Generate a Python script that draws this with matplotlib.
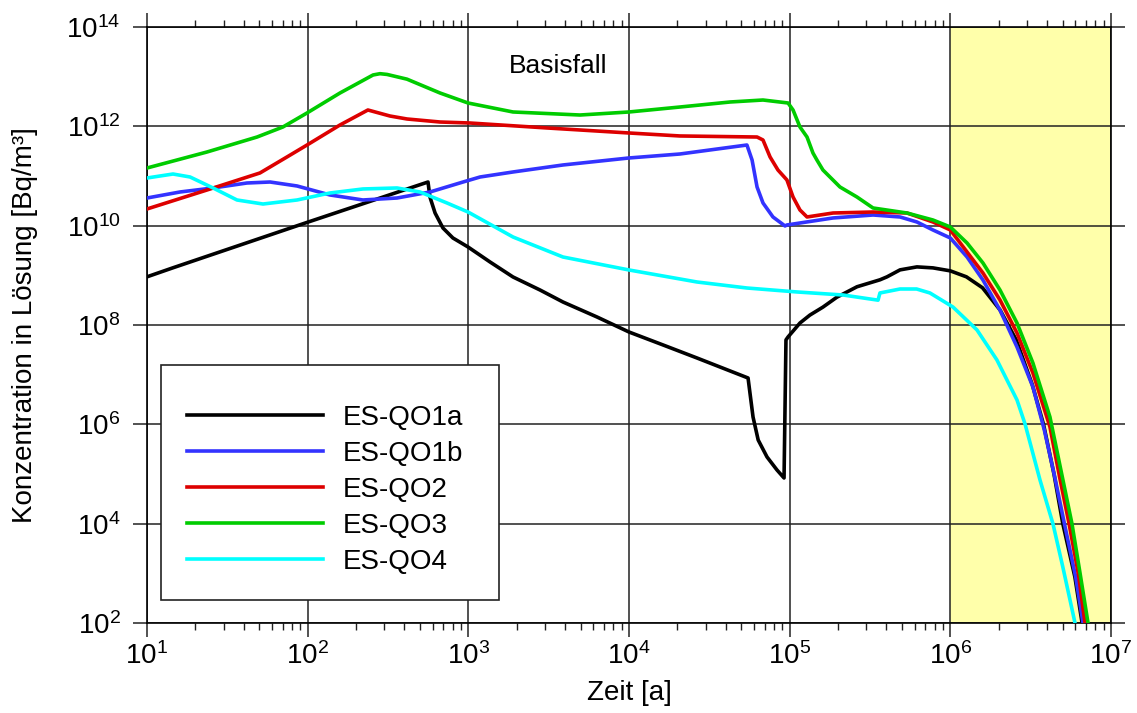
import numpy as np
import matplotlib
matplotlib.use("Agg")
import matplotlib.pyplot as plt
from matplotlib.ticker import FixedLocator, LogFormatterSciNotation, NullLocator, NullFormatter
from matplotlib.patches import Rectangle

plt.rcParams['font.family'] = ['Liberation Sans', 'DejaVu Sans']
plt.rcParams['mathtext.fontset'] = 'custom'
plt.rcParams['mathtext.rm'] = 'Liberation Sans'

# values, as log10(time in a) and log10(concentration in Bq/m3)
lt_qo1a = [1.0, 1.16, 2.0, 2.749, 2.761, 2.793, 2.842, 2.904, 2.998, 3.135, 3.278, 3.446, 3.589,
           3.801, 4.0, 4.212, 4.423, 4.741, 4.772, 4.804, 4.859, 4.921, 4.965, 4.977, 4.99, 5.064,
           5.126, 5.207, 5.294, 5.419, 5.562, 5.606, 5.687, 5.792, 5.892, 6.0, 6.10, 6.20, 6.31,
           6.41, 6.51, 6.58, 6.645, 6.70, 6.775, 6.82, 6.845]
lc_qo1a = [8.97, 9.15, 10.07, 10.879, 10.577, 10.255, 9.953, 9.752, 9.571, 9.269, 8.967, 8.705, 8.463,
           8.161, 7.859, 7.598, 7.336, 6.933, 6.148, 5.685, 5.343, 5.081, 4.92, 7.70, 7.76, 8.04,
           8.20, 8.36, 8.56, 8.77, 8.91, 8.97, 9.11, 9.17, 9.15, 9.09, 8.97, 8.75, 8.30,
           7.70, 6.80, 6.0, 5.0, 4.0, 2.93, 2.0, 1.5]

lt_qo1b = [1.0, 1.205, 1.411, 1.622, 1.766, 1.934, 2.139, 2.344, 2.556, 2.761, 2.967, 3.073, 3.278,
           3.589, 4.0, 4.317, 4.734, 4.766, 4.797, 4.834, 4.896, 4.971, 4.983, 5.27, 5.519, 5.687,
           5.792, 5.892, 6.0, 6.104, 6.203, 6.309, 6.415, 6.514, 6.585, 6.65, 6.71, 6.78, 6.826, 6.85]
lc_qo1b = [10.557, 10.678, 10.759, 10.859, 10.879, 10.799, 10.618, 10.517, 10.557, 10.678, 10.879,
           10.98, 11.081, 11.222, 11.363, 11.443, 11.624, 11.322, 10.779, 10.457, 10.175, 9.994,
           10.014, 10.155, 10.215, 10.175, 10.074, 9.913, 9.752, 9.37, 8.906, 8.30, 7.557, 6.752,
           5.886, 4.94, 4.0, 2.93, 2.0, 1.5]

lt_qo2 = [1.0, 1.373, 1.703, 1.871, 1.996, 2.201, 2.375, 2.512, 2.618, 2.824, 3.01, 3.49, 4.0, 4.317,
          4.797, 4.834, 4.878, 4.927, 4.983, 5.021, 5.064, 5.108, 5.27, 5.519, 5.73, 5.892, 6.0,
          6.104, 6.203, 6.309, 6.415, 6.514, 6.62, 6.68, 6.739, 6.798, 6.838, 6.86]
lc_qo2 = [10.336, 10.718, 11.061, 11.383, 11.624, 12.027, 12.329, 12.208, 12.148, 12.087, 12.067,
          11.967, 11.866, 11.806, 11.785, 11.725, 11.383, 11.121, 10.92, 10.577, 10.316, 10.175,
          10.255, 10.275, 10.255, 10.074, 9.913, 9.47, 9.047, 8.504, 7.839, 7.034, 5.947, 4.94,
          4.0, 2.97, 2.0, 1.5]

lt_qo3 = [1.0, 1.373, 1.685, 1.846, 1.996, 2.201, 2.407, 2.45, 2.494, 2.618, 2.824, 2.998, 3.278,
          3.695, 4.0, 4.317, 4.629, 4.834, 4.99, 5.021, 5.064, 5.108, 5.145, 5.17, 5.207, 5.313,
          5.419, 5.519, 5.73, 5.892, 6.0, 6.104, 6.203, 6.309, 6.415, 6.514, 6.62, 6.757, 6.807,
          6.857, 6.88]
lc_qo3 = [11.161, 11.483, 11.785, 11.987, 12.269, 12.671, 13.034, 13.06, 13.045, 12.95, 12.671,
          12.47, 12.289, 12.228, 12.289, 12.389, 12.49, 12.53, 12.47, 12.329, 11.987, 11.785, 11.463,
          11.32, 11.121, 10.779, 10.577, 10.356, 10.255, 10.114, 9.973, 9.651, 9.249, 8.705, 8.04,
          7.235, 6.148, 4.0, 3.01, 2.0, 1.5]

lt_qo4 = [1.0, 1.162, 1.268, 1.411, 1.56, 1.722, 1.934, 2.139, 2.344, 2.556, 2.699, 2.867, 2.998,
          3.278, 3.589, 4.0, 4.423, 4.734, 5.046, 5.332, 5.55, 5.562, 5.687, 5.79, 5.873, 6.016,
          6.166, 6.29, 6.415, 6.465, 6.558, 6.639, 6.70, 6.776, 6.80]
lc_qo4 = [10.96, 11.04, 10.98, 10.759, 10.517, 10.436, 10.517, 10.658, 10.739, 10.759, 10.678,
          10.457, 10.275, 9.772, 9.369, 9.108, 8.866, 8.745, 8.665, 8.604, 8.50, 8.645, 8.725, 8.725,
          8.645, 8.363, 7.90, 7.296, 6.49, 6.007, 4.88, 3.994, 3.13, 2.0, 1.5]

labels = ['ES-QO1a', 'ES-QO1b', 'ES-QO2', 'ES-QO3', 'ES-QO4']
colors = ['black', '#3333ff', '#dd0000', '#00cc00', '#00ffff']
series = [(lt_qo1a, lc_qo1a), (lt_qo1b, lc_qo1b), (lt_qo2, lc_qo2), (lt_qo3, lc_qo3), (lt_qo4, lc_qo4)]

x_major = [1e1, 1e2, 1e3, 1e4, 1e5, 1e6, 1e7]
y_major = [1e2, 1e4, 1e6, 1e8, 1e10, 1e12, 1e14]

fig = plt.figure(figsize=(11.37, 7.13), dpi=100)
ax = fig.add_axes([147 / 1137, 1 - 623 / 713, 964 / 1137, 596 / 713])

ax.axvspan(1e6, 1e7, color='#ffffaa', zorder=0.3, lw=0)

handles = []
for (lt, lc), lab, col in zip(series, labels, colors):
    h, = ax.plot(10 ** np.array(lt), 10 ** np.array(lc), color=col, lw=2.6, label=lab,
                 solid_joinstyle='round', zorder=3)
    handles.append(h)

ax.set_xscale('log')
ax.set_yscale('log')
ax.set_xlim(1e1, 1e7)
ax.set_ylim(1e2, 1e14)

x_minor = [m * d for d in x_major[:-1] for m in range(2, 10)]
ax.xaxis.set_major_locator(FixedLocator(x_major))
ax.xaxis.set_minor_locator(FixedLocator(x_minor))
ax.yaxis.set_major_locator(FixedLocator(y_major))
ax.yaxis.set_minor_locator(NullLocator())
ax.xaxis.set_major_formatter(LogFormatterSciNotation())
ax.yaxis.set_major_formatter(LogFormatterSciNotation())
ax.xaxis.set_minor_formatter(NullFormatter())

ax.set_axisbelow(True)
ax.grid(True, which='major', color='#222222', lw=1.1)
ax.tick_params(which='major', direction='out', length=10, width=1.1, top=True, right=True,
               labelsize=20, color='#222222')
ax.tick_params(which='minor', direction='out', length=5, width=1.0, top=True, color='#222222')
ax.tick_params(axis='y', pad=9)
ax.tick_params(axis='x', pad=4)
for sp in ax.spines.values():
    sp.set_linewidth(1.2)

ax.set_xlabel('Zeit [a]', fontsize=20, va='center')
ax.xaxis.set_label_coords(0.5, -(693 - 623) / 596)
ax.set_ylabel('Konzentration in Lösung [Bq/m³]', fontsize=20, va='center')
ax.yaxis.set_label_coords((25 - 147) / 964, 0.5)

ax.text((558 - 147) / 964, (623 - 73) / 596, 'Basisfall', fontsize=19, ha='center',
        va='baseline', transform=ax.transAxes)

box = Rectangle(((161 - 147) / 964, (623 - 600) / 596), (499 - 161) / 964, (600 - 365) / 596,
                transform=ax.transAxes, facecolor='white', edgecolor='#222222', lw=1.2, zorder=4)
ax.add_patch(box)
leg = ax.legend(handles=handles, loc='upper left', bbox_to_anchor=((187 - 147) / 964, (623 - 405) / 596),
                frameon=False, fontsize=20, handlelength=4.9, handletextpad=0.72,
                labelspacing=0.36, borderpad=0, borderaxespad=0)
leg.set_zorder(5)
for line in leg.get_lines():
    line.set_linewidth(2.6)

fig.savefig('out.png', dpi=100)
